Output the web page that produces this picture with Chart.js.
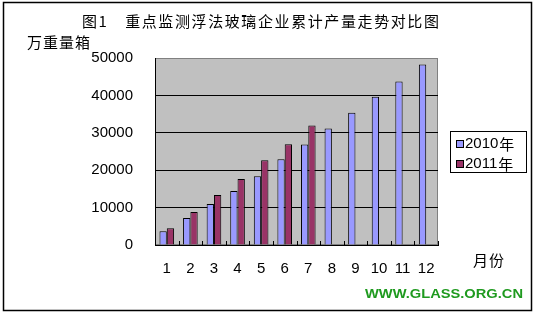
<!DOCTYPE html>
<html>
<head>
<meta charset="utf-8">
<script src="https://cdn.jsdelivr.net/npm/chart.js@4"></script>
<style>
  body { margin: 0; background: #fff; }
  #cvs { display: block; }
</style>
</head>
<body>
<canvas id="cvs" width="536" height="317"></canvas>
<script>
//-------------------------------------------------------------------
// data
//-------------------------------------------------------------------
const months = ['1', '2', '3', '4', '5', '6', '7', '8', '9', '10', '11', '12'];
const output2010 = [3660, 7220, 10960, 14440, 18360, 22910, 26870, 31150, 35350, 39620, 43720, 48260];
const output2011 = [4470, 8820, 13370, 17650, 22650, 26920, 31950, null, null, null, null, null];
const seriesNames = ['2010年', '2011年'];
const yMax = 50000;
const yStep = 10000;

const titleText = '图1　重点监测浮法玻璃企业累计产量走势对比图';
const yUnitText = '万重量箱';
const xUnitText = '月份';
const siteText = 'WWW.GLASS.ORG.CN';

const CJK = '"Noto Sans CJK SC", sans-serif';
const LATIN = '"Liberation Sans", Arial, sans-serif';

//-------------------------------------------------------------------
// plugins
//-------------------------------------------------------------------
const plotBackground = {
  id: 'plotBackground',
  beforeDraw(chart) {
    const { ctx, chartArea: a } = chart;
    ctx.save();
    ctx.fillStyle = '#c0c0c0';
    ctx.fillRect(a.left, a.top, a.right - a.left, a.bottom - a.top);
    ctx.strokeStyle = '#808080';
    ctx.lineWidth = 1;
    ctx.strokeRect(a.left + 0.5, a.top + 0.5, a.right - a.left - 1, a.bottom - a.top - 1);
    ctx.restore();
  }
};

const innerTicks = {
  id: 'innerTicks',
  afterDatasetsDraw(chart) {
    const { ctx, chartArea: a } = chart;
    const x = chart.scales.x;
    ctx.save();
    ctx.strokeStyle = '#000';
    ctx.lineWidth = 1;
    ctx.beginPath();
    for (let i = 0; i <= months.length; i++) {
      const px = Math.round(x.getPixelForValue(i - 0.5)) + 0.5;
      ctx.moveTo(px, a.bottom);
      ctx.lineTo(px, a.bottom - 4);
    }
    ctx.stroke();
    ctx.restore();
  }
};

const decorations = {
  id: 'decorations',
  afterDraw(chart) {
    const ctx = chart.ctx;
    ctx.save();

    // outer frame
    ctx.strokeStyle = '#000';
    ctx.lineWidth = 1.5;
    ctx.strokeRect(3.5, 2.5, 528, 308);

    ctx.fillStyle = '#000';
    ctx.textBaseline = 'middle';
    ctx.textAlign = 'left';

    ctx.font = '15px ' + CJK;
    ctx.letterSpacing = '1.6px';
    ctx.fillText(titleText, 82, 21);
    ctx.letterSpacing = '1px';
    ctx.fillText(yUnitText, 27, 42);
    ctx.fillText(xUnitText, 473, 260);
    ctx.letterSpacing = '0px';

    // legend
    ctx.fillStyle = '#fff';
    ctx.fillRect(450.5, 131.5, 76, 41);
    ctx.strokeStyle = '#000';
    ctx.lineWidth = 1;
    ctx.strokeRect(450.5, 131.5, 76, 41);
    const rows = [144, 164];
    chart.data.datasets.forEach((ds, i) => {
      ctx.fillStyle = ds.backgroundColor;
      ctx.fillRect(456.5, rows[i] - 3.5, 7, 7);
      ctx.strokeRect(456.5, rows[i] - 3.5, 7, 7);
      ctx.fillStyle = '#000';
      ctx.font = '15px ' + LATIN;
      const w = ctx.measureText(ds.label.slice(0, 4)).width;
      ctx.fillText(ds.label.slice(0, 4), 465, rows[i]);
      ctx.font = '15px ' + CJK;
      ctx.fillText(ds.label.slice(4), 465 + w + 1, rows[i]);
    });

    // site mark
    ctx.font = '900 13px ' + LATIN;
    ctx.fillStyle = '#1f9a1f';
    const sw = ctx.measureText(siteText).width;
    ctx.save();
    ctx.translate(365, 294.5);
    ctx.scale(158 / sw, 1);
    ctx.fillText(siteText, 0, 0);
    ctx.restore();

    ctx.restore();
  }
};

//-------------------------------------------------------------------
// chart
//-------------------------------------------------------------------
const chart = new Chart(document.getElementById('cvs').getContext('2d'), {
  type: 'bar',
  data: {
    labels: months,
    datasets: [
      {
        label: seriesNames[0],
        data: output2010,
        backgroundColor: '#9999ff',
        borderColor: '#000',
        borderWidth: 1
      },
      {
        label: seriesNames[1],
        data: output2011,
        backgroundColor: '#993366',
        borderColor: '#000',
        borderWidth: 1
      }
    ]
  },
  options: {
    responsive: false,
    animation: false,
    categoryPercentage: 0.62,
    barPercentage: 1,
    layout: {
      padding: { left: 0, top: 58, right: 98, bottom: 42 }
    },
    plugins: {
      legend: { display: false },
      title: { display: false },
      tooltip: { enabled: false }
    },
    scales: {
      x: {
        offset: true,
        grid: { display: false, drawTicks: false },
        border: { display: true, color: '#000', width: 1 },
        ticks: {
          color: '#000',
          padding: 15,
          maxRotation: 0,
          autoSkip: false,
          font: { family: LATIN, size: 15 }
        },
        afterFit(scale) { scale.height = 30; }
      },
      y: {
        min: 0,
        max: yMax,
        ticks: {
          stepSize: yStep,
          color: '#000',
          padding: 22,
          font: { family: LATIN, size: 15 },
          callback: (v) => String(v)
        },
        grid: {
          drawTicks: false,
          lineWidth: 1,
          color: (c) => (c.tick && c.tick.value === yMax ? '#808080' : '#000')
        },
        border: { display: true, color: '#000', width: 1 },
        afterFit(scale) { scale.width = 155; }
      }
    }
  },
  plugins: [plotBackground, innerTicks, decorations]
});
</script>
</body>
</html>
